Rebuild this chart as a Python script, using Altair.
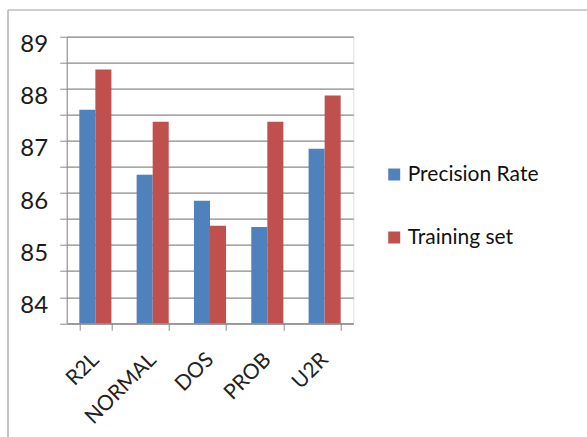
import altair as alt
import pandas as pd

categories = ["R2L", "NORMAL", "DOS", "PROB", "U2R"]
precision_rate = [87.6, 86.35, 85.85, 85.35, 86.85]
training_set = [88.37, 87.37, 85.37, 87.37, 87.87]
series = ["Precision Rate", "Training set"]
colors = ["#4F81BD", "#C0504D"]
y_ticks = [83.5, 84, 84.5, 85, 85.5, 86, 86.5, 87, 87.5, 88, 88.5, 89]

rows = []
for c, p, t in zip(categories, precision_rate, training_set):
    rows.append({"cat": c, "series": series[0], "value": p})
    rows.append({"cat": c, "series": series[1], "value": t})
df = pd.DataFrame(rows)

FONT = "Lato, sans-serif"
AX = "#8a8a8a"

bars = alt.Chart(df).mark_bar().encode(
    x=alt.X("cat:N", sort=categories, title=None,
            scale=alt.Scale(paddingInner=0.44, paddingOuter=0.22),
            axis=alt.Axis(labelAngle=-45, labelAlign="right", labelBaseline="middle",
                          labelPadding=26, labelFontSize=21, labelFont=FONT,
                          labelColor="#222222", tickBand="extent", tickSize=7,
                          tickColor=AX, domainColor=AX, grid=False)),
    xOffset=alt.XOffset("series:N", sort=series, scale=alt.Scale(paddingInner=0, paddingOuter=0)),
    y=alt.Y("value:Q", title=None,
            scale=alt.Scale(domain=[83.5, 89], zero=False, nice=False),
            axis=alt.Axis(values=y_ticks,
                          labelExpr="datum.value % 1 === 0 ? format(datum.value, 'd') : ''",
                          labelFontSize=24, labelFont=FONT, labelColor="#1a1a1a",
                          labelOffset=8, labelPadding=12,
                          tickSize=7, tickColor=AX, domainColor=AX,
                          grid=True, gridColor=AX, gridWidth=1.2)),
    y2=alt.datum(83.5),
    color=alt.Color("series:N", sort=series, scale=alt.Scale(domain=series, range=colors),
                    legend=alt.Legend(title=None, orient="none", legendX=317, legendY=127.3,
                                      direction="vertical", symbolType="square",
                                      symbolSize=144, symbolStrokeWidth=0,
                                      labelFontSize=21, labelFont=FONT, labelColor="#111111",
                                      labelOffset=3, rowPadding=41, padding=0)),
)

border = alt.Chart(alt.Data(values=[{}])).mark_rule(color="#a0a0a0", strokeWidth=1.2)
left_line = border.encode(x=alt.value(-58.7), y=alt.value(-26.7), y2=alt.value(400.3))
top_line = border.encode(x=alt.value(-58.7), x2=alt.value(520.3), y=alt.value(-26.7))

chart = alt.layer(bars, left_line, top_line).properties(
    width=286.6, height=286.6,
    autosize=alt.AutoSizeParams(type="none"),
    padding={"left": 66.7, "top": 36.7, "right": 233.7, "bottom": 113.7},
).configure_view(stroke=None).configure(background="white")

chart.save("out.html", embed_options={"renderer": "svg", "actions": False})
